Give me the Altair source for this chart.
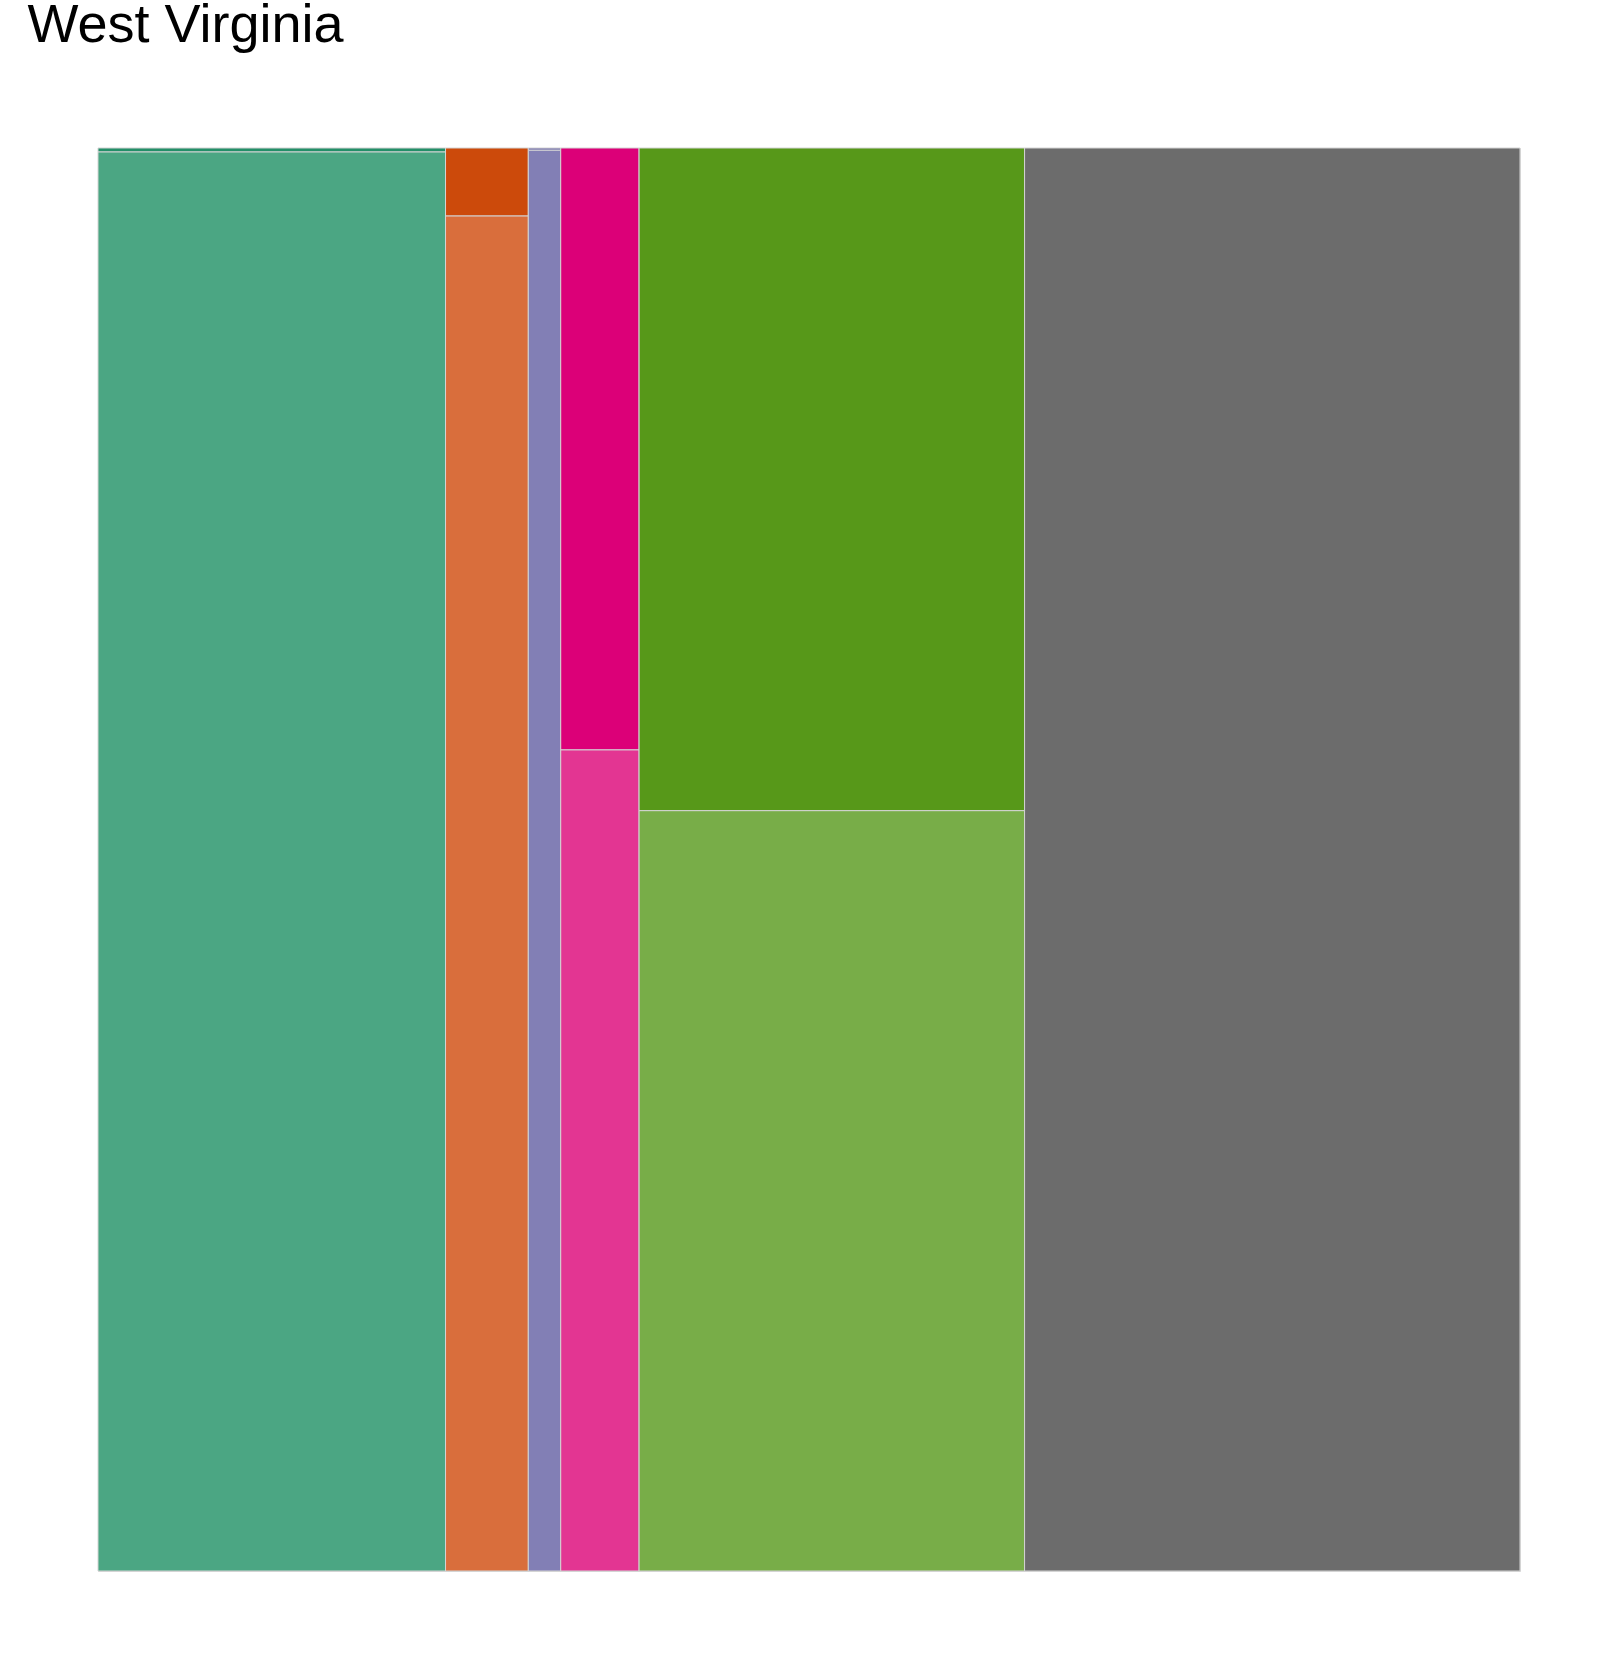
import altair as alt
import pandas as pd

# Mosaic data: column share of total and share of the top (darker) segment
groups = ["Group 1", "Group 2", "Group 3", "Group 4", "Group 5", "Group 6"]
col_share = [0.2444, 0.0582, 0.0228, 0.0551, 0.2711, 0.3484]
top_share = [0.0028, 0.0478, 0.0016, 0.4230, 0.4657, 0.0]
segments = ["Yes", "No"]

dark_colors = ["#238F68", "#CC4A0B", "#6E6AAA", "#DC0078", "#579819", "#6C6C6C"]
light_colors = ["#4BA683", "#D96E3C", "#827FB5", "#E33592", "#78AD48", "#6C6C6C"]

rows = []
x0 = 0.0
for g, w, t, dc, lc in zip(groups, col_share, top_share, dark_colors, light_colors):
    x1 = x0 + w
    if t > 0:
        rows.append(dict(group=g, segment="Yes", x=x0, x2=x1, y=0.0, y2=t, key=g + " Yes", color=dc))
    rows.append(dict(group=g, segment="No", x=x0, x2=x1, y=t, y2=1.0, key=g + " No", color=lc))
    x0 = x1
df = pd.DataFrame(rows)

chart = (
    alt.Chart(df)
    .mark_rect(stroke="#D4D4D4", strokeWidth=1)
    .encode(
        x=alt.X("x:Q", scale=alt.Scale(domain=[0, 1], nice=False, zero=True), axis=None),
        x2="x2:Q",
        y=alt.Y("y:Q", scale=alt.Scale(domain=[0, 1], nice=False, reverse=True), axis=None),
        y2="y2:Q",
        color=alt.Color("color:N", scale=None, legend=None),
        tooltip=["group:N", "segment:N"],
    )
    .properties(
        width=1422,
        height=1423,
        autosize=alt.AutoSizeParams(type="none"),
        padding={"left": 98, "top": 148, "right": 88, "bottom": 83},
        title=alt.TitleParams(
            "West Virginia",
            anchor="start",
            font="Liberation Sans",
            fontSize=54,
            fontWeight="normal",
            color="black",
            baseline="alphabetic",
            offset=52,
            dx=-70,
        ),
    )
    .configure_view(stroke="#D4D4D4", strokeWidth=1)
)

chart.save("out.html", embed_options={"renderer": "svg", "actions": False})
